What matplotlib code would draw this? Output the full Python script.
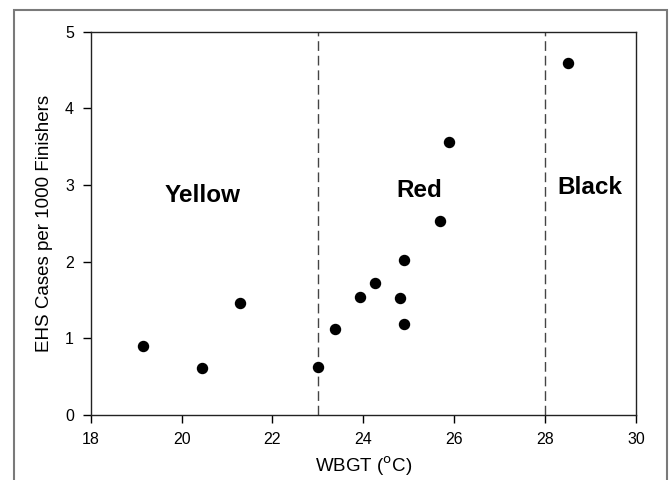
import matplotlib
matplotlib.use("Agg")
import matplotlib.pyplot as plt
from matplotlib.patches import Rectangle

plt.rcParams['font.family'] = ['Liberation Sans', 'DejaVu Sans']

wbgt = [19.16, 20.44, 21.28, 23.0, 23.37, 23.93, 24.26, 24.81, 24.89, 24.89, 25.69, 25.89, 28.50]
ehs = [0.90, 0.61, 1.46, 0.62, 1.12, 1.54, 1.72, 1.53, 1.19, 2.02, 2.53, 3.56, 4.59]
thresholds = [23, 28]
zone_names = ["Yellow", "Red", "Black"]
zone_x = [20.46, 25.22, 28.99]
zone_y = [2.86, 2.93, 2.97]
x_ticks = [18, 20, 22, 24, 26, 28, 30]
y_ticks = [0, 1, 2, 3, 4, 5]

fig = plt.figure(figsize=(6.69, 4.80), dpi=100)
ax = fig.add_axes([0.1356, 0.1354, 0.8151, 0.7986])

for t in thresholds:
    ax.axvline(t, color='#444444', lw=1.0, dashes=(7, 3.5))

ax.scatter(wbgt, ehs, s=52, color='black', zorder=3, clip_on=False)

for name, x, y in zip(zone_names, zone_x, zone_y):
    ax.text(x, y, name, ha='center', va='center', fontsize=17.5, fontweight='bold')

ax.set_xlim(18, 30)
ax.set_ylim(0, 5)
ax.set_xticks(x_ticks)
ax.set_yticks(y_ticks)
ax.tick_params(direction='out', length=6, width=1, labelsize=11.5)
ax.tick_params(axis='x', pad=6)
ax.tick_params(axis='y', pad=6)
for s in ax.spines.values():
    s.set_linewidth(1.0)
    s.set_color('#222222')

ax.set_xlabel('WBGT ($^{\\mathrm{o}}$C)', fontsize=13.5, labelpad=6)
ax.set_ylabel('EHS Cases per 1000 Finishers', fontsize=13.5, labelpad=9)

fig.patches.append(Rectangle((14/669, -0.05), (667-14)/669, 1 - 10/480 + 0.05,
                             transform=fig.transFigure, fill=False,
                             edgecolor='#7a7a7a', lw=1.5))

fig.savefig('out.png', dpi=100)
